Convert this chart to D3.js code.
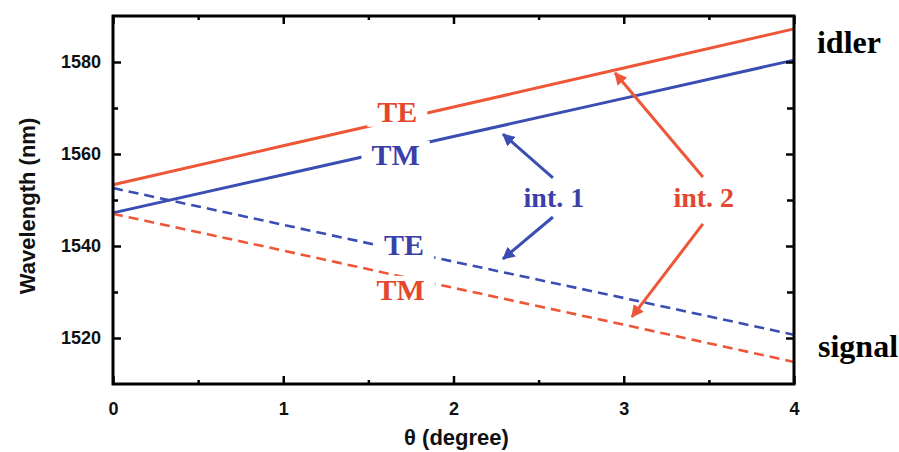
<!DOCTYPE html>
<html>
<head>
<meta charset="utf-8">
<script src="https://cdn.jsdelivr.net/npm/d3@7"></script>
<style>
  html, body { margin: 0; padding: 0; background: #fff; }
  svg { display: block; }
</style>
</head>
<body>
<svg id="chart" width="899" height="452"></svg>
<script>
// Emission wavelength vs. incidence angle, signal and idler branches
const theta = [0, 1, 2, 3, 4];
const idlerTE  = [1553.3, 1561.8, 1570.2, 1578.7, 1587.2];
const idlerTM  = [1547.2, 1555.5, 1563.8, 1572.1, 1580.4];
const signalTE = [1552.6, 1544.6, 1536.6, 1528.7, 1520.7];
const signalTM = [1547.0, 1539.0, 1530.9, 1522.9, 1514.8];

const xTicks = [0, 1, 2, 3, 4];
const yTicks = [1520, 1540, 1560, 1580];
const xMinor = [0.5, 1.5, 2.5, 3.5];
const yMinor = [1530, 1550, 1570];

// mode labels sitting on the curves: [text, theta, wavelength, colour key]
const curveLabels = [
  ["TE", 1.67, 1567.0, "red"],
  ["TM", 1.66, 1557.6, "blue"],
  ["TE", 1.71, 1538.0, "blue"],
  ["TM", 1.69, 1528.3, "red"]
];
// interaction labels and their arrows (tail -> head, data units)
const intLabels = [
  ["int. 1", 2.59, 1548.5, "blue"],
  ["int. 2", 3.47, 1548.5, "red"]
];
const arrows = [
  [2.584, 1554.8, 2.291, 1564.3, "blue"],
  [2.584, 1546.3, 2.291, 1537.2, "blue"],
  [3.465, 1555.0, 2.949, 1577.6, "red"],
  [3.465, 1544.8, 3.048, 1524.6, "red"]
];
const sideLabels = [
  ["idler", 4.135, 1582.0],
  ["signal", 4.141, 1515.9]
];

const colors = { red: "#ee5638", blue: "#3a4db2" };
const textColors = { red: "#e4472d", blue: "#3a40a8" };

const svg = d3.select("#chart");
const W = 899, H = 452;
const margin = { top: 16, right: 105, bottom: 68, left: 113 };

const x = d3.scaleLinear().domain([0, 4]).range([margin.left, W - margin.right]);
const y = d3.scaleLinear().domain([1510, 1590]).range([H - margin.bottom, margin.top]);

const defs = svg.append("defs");
Object.entries(colors).forEach(([k, c]) => {
  defs.append("marker")
    .attr("id", "head-" + k)
    .attr("viewBox", "0 0 10 10")
    .attr("refX", 9).attr("refY", 5)
    .attr("markerWidth", 4.2).attr("markerHeight", 4.2)
    .attr("markerUnits", "strokeWidth")
    .attr("orient", "auto")
    .append("path")
    .attr("d", "M0,0 L10,5 L0,10 Z")
    .attr("fill", c);
});

const line = d3.line().x(d => x(d[0])).y(d => y(d[1]));
const series = [
  { v: idlerTE, c: colors.red, dash: null, w: 3 },
  { v: idlerTM, c: colors.blue, dash: null, w: 3 },
  { v: signalTE, c: colors.blue, dash: "10,6", w: 2.6 },
  { v: signalTM, c: colors.red, dash: "10,6", w: 2.6 }
];

const plot = svg.append("g");
series.forEach(s => {
  plot.append("path")
    .datum(theta.map((t, i) => [t, s.v[i]]))
    .attr("d", line)
    .attr("fill", "none")
    .attr("stroke", s.c)
    .attr("stroke-width", s.w)
    .attr("stroke-dasharray", s.dash);
});

// curve labels with a white backing that breaks the line
const serif = "'Liberation Serif', 'DejaVu Serif', serif";
curveLabels.forEach(([t, tx, ty, c]) => {
  const g = plot.append("g");
  const txt = g.append("text")
    .attr("x", x(tx)).attr("y", y(ty))
    .attr("text-anchor", "middle")
    .attr("font-family", serif)
    .attr("font-weight", "bold")
    .attr("font-size", 30)
    .attr("fill", textColors[c])
    .text(t);
  const b = txt.node().getBBox();
  g.insert("rect", "text")
    .attr("x", b.x - 10).attr("y", b.y + 3)
    .attr("width", b.width + 20).attr("height", b.height - 4)
    .attr("fill", "#fff");
});

intLabels.forEach(([t, tx, ty, c]) => {
  plot.append("text")
    .attr("x", x(tx)).attr("y", y(ty))
    .attr("text-anchor", "middle")
    .attr("font-family", serif)
    .attr("font-weight", "bold")
    .attr("font-size", 28)
    .attr("fill", textColors[c])
    .text(t);
});

arrows.forEach(([x1, y1, x2, y2, c]) => {
  plot.append("line")
    .attr("x1", x(x1)).attr("y1", y(y1))
    .attr("x2", x(x2)).attr("y2", y(y2))
    .attr("stroke", colors[c])
    .attr("stroke-width", 3)
    .attr("marker-end", `url(#head-${c})`);
});

sideLabels.forEach(([t, tx, ty]) => {
  svg.append("text")
    .attr("x", x(tx)).attr("y", y(ty))
    .attr("font-family", serif)
    .attr("font-weight", "bold")
    .attr("font-size", 32)
    .attr("fill", "#000")
    .text(t);
});

// axes: ticks point inward on all four sides
const sans = "'Liberation Sans', Arial, sans-serif";
function styleAxis(g) {
  g.select(".domain").remove();
  g.selectAll(".tick line").attr("stroke", "#000").attr("stroke-width", 2.5);
  g.selectAll(".tick text")
    .attr("font-family", sans)
    .attr("font-weight", "bold")
    .attr("font-size", 18)
    .attr("fill", "#111");
}
const axisBottomG = svg.append("g").attr("transform", `translate(0,${y(1510)})`)
  .call(d3.axisBottom(x).tickValues(xTicks).tickFormat(d3.format("d")).tickSizeInner(-8).tickPadding(18));
styleAxis(axisBottomG);
const axisBottomMinorG = svg.append("g").attr("transform", `translate(0,${y(1510)})`)
  .call(d3.axisBottom(x).tickValues(xMinor).tickFormat("").tickSizeInner(-4));
styleAxis(axisBottomMinorG);
const axisTopG = svg.append("g").attr("transform", `translate(0,${y(1590)})`)
  .call(d3.axisTop(x).tickValues(xTicks).tickFormat("").tickSizeInner(-8));
styleAxis(axisTopG);
const axisTopMinorG = svg.append("g").attr("transform", `translate(0,${y(1590)})`)
  .call(d3.axisTop(x).tickValues(xMinor).tickFormat("").tickSizeInner(-4));
styleAxis(axisTopMinorG);

const axisLeftG = svg.append("g").attr("transform", `translate(${x(0)},0)`)
  .call(d3.axisLeft(y).tickValues(yTicks).tickFormat(d3.format("d")).tickSizeInner(-8).tickPadding(12));
styleAxis(axisLeftG);
const axisLeftMinorG = svg.append("g").attr("transform", `translate(${x(0)},0)`)
  .call(d3.axisLeft(y).tickValues(yMinor).tickFormat("").tickSizeInner(-5));
styleAxis(axisLeftMinorG);
const axisRightG = svg.append("g").attr("transform", `translate(${x(4)},0)`)
  .call(d3.axisRight(y).tickValues(yTicks).tickFormat("").tickSizeInner(-8));
styleAxis(axisRightG);
const axisRightMinorG = svg.append("g").attr("transform", `translate(${x(4)},0)`)
  .call(d3.axisRight(y).tickValues(yMinor).tickFormat("").tickSizeInner(-7));
styleAxis(axisRightMinorG);

// frame
svg.append("rect")
  .attr("x", x(0)).attr("y", y(1590))
  .attr("width", x(4) - x(0)).attr("height", y(1510) - y(1590))
  .attr("fill", "none")
  .attr("stroke", "#000")
  .attr("stroke-width", 3);

// axis titles
svg.append("text")
  .attr("x", (x(0) + x(4)) / 2 + 3).attr("y", 445)
  .attr("text-anchor", "middle")
  .attr("font-family", sans)
  .attr("font-weight", "bold")
  .attr("font-size", 22)
  .attr("fill", "#111")
  .text("θ (degree)");

svg.append("text")
  .attr("transform", "translate(35,206) rotate(-90)")
  .attr("text-anchor", "middle")
  .attr("font-family", sans)
  .attr("font-weight", "bold")
  .attr("font-size", 22)
  .attr("fill", "#111")
  .text("Wavelength (nm)");
</script>
</body>
</html>
